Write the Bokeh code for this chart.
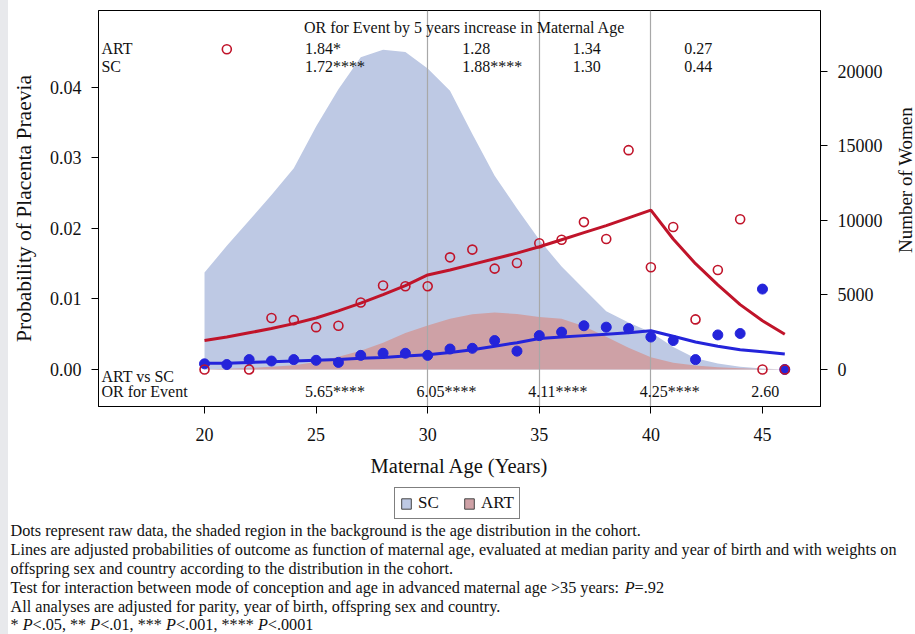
import math
import numpy as np
from bokeh.plotting import figure
from bokeh.models import (Range1d, LinearAxis, FixedTicker, NumeralTickFormatter,
                          Label, Legend, LegendItem, ColumnDataSource, Spacer)
from bokeh.layouts import row, column
from bokeh.embed import file_html
from bokeh.resources import INLINE

# ---------------- data ----------------
ages = [20, 21, 22, 23, 24, 25, 26, 27, 28, 29, 30, 31, 32, 33, 34, 35, 36, 37, 38, 39, 40, 41, 42, 43, 44, 45, 46]
sc_women = [6500, 8300, 10000, 11700, 13500, 16300, 18800, 20950, 21450, 21300, 20200, 18700, 15800, 13000,
            10800, 8700, 6900, 5400, 3900, 3150, 2500, 1500, 750, 400, 180, 60, 0]
art_women = [0, 50, 100, 180, 280, 500, 850, 1250, 1800, 2450, 2950, 3400, 3700, 3820, 3720, 3520, 3400,
             2900, 2200, 1450, 825, 450, 270, 150, 80, 40, 0]
sc_observed = [0.0008, 0.0007, 0.0014, 0.0012, 0.0014, 0.0013, 0.0010, 0.0020, 0.0023, 0.0023, 0.0020, 0.0029,
               0.0030, 0.0041, 0.0026, 0.0048, 0.0053, 0.0062, 0.0060, 0.0058, 0.0046, 0.0041, 0.0014, 0.0049,
               0.0051, 0.0114, 0.0000]
art_observed = [0.0000, 0.0454, 0.0000, 0.0073, 0.0070, 0.0060, 0.0062, 0.0095, 0.0119, 0.0118, 0.0118, 0.0159,
                0.0170, 0.0143, 0.0151, 0.0179, 0.0184, 0.0209, 0.0185, 0.0311, 0.0145, 0.0202, 0.0071, 0.0141,
                0.0213, 0.0000, 0.0000]
sc_fitted = [0.0009, 0.0009, 0.0010, 0.0011, 0.0012, 0.0013, 0.0014, 0.0016, 0.0017, 0.0019, 0.0021, 0.0024,
             0.0028, 0.0033, 0.0038, 0.0044, 0.0046, 0.0048, 0.0050, 0.0052, 0.0055, 0.0047, 0.0039, 0.0033,
             0.0028, 0.0025, 0.0022]
art_fitted = [0.0041, 0.0046, 0.0052, 0.0058, 0.0065, 0.0073, 0.0083, 0.0094, 0.0106, 0.0119, 0.0134, 0.0141,
              0.0149, 0.0157, 0.0165, 0.0174, 0.0184, 0.0194, 0.0204, 0.0215, 0.0226, 0.0185, 0.0150, 0.0120,
              0.0092, 0.0069, 0.0050]
knots = [30, 35, 40]
x_ticks = [20, 25, 30, 35, 40, 45]
p_ticks = [0.00, 0.01, 0.02, 0.03, 0.04]
n_ticks = [0, 5000, 10000, 15000, 20000]

or_title = "OR for Event by 5 years increase in Maternal Age"
or_art = ["1.84*", "1.28", "1.34", "0.27"]
or_sc = ["1.72****", "1.88****", "1.30", "0.44"]
or_art_vs_sc = ["5.65****", "6.05****", "4.11****", "4.25****", "2.60"]
legend_labels = ["SC", "ART"]
footnotes = [
    [("Dots represent raw data, the shaded region in the background is the age distribution in the cohort.", False)],
    [("Lines are adjusted probabilities of outcome as function of maternal age, evaluated at median parity and year of birth and with weights on", False)],
    [("offspring sex and country according to the distribution in the cohort.", False)],
    [("Test for interaction between mode of conception and age in advanced maternal age >35 years: ", False),
     ("P", True), ("=.92", False)],
    [("All analyses are adjusted for parity, year of birth, offspring sex and country.", False)],
    [("* ", False), ("P", True), ("<.05, ** ", False), ("P", True), ("<.01, *** ", False), ("P", True),
     ("<.001, **** ", False), ("P", True), ("<.0001", False)],
]

# ---------------- style ----------------
FONT = "Liberation Serif"
SC_AREA = "#BEC9E4"
ART_AREA = "#CEA1A6"
RED = "#C0142A"
BLUE = "#2424DA"
TXT = "#111111"

top_cols = [24.5, 31.55, 36.5, 41.5]
bot_cols = [24.5, 29.5, 34.5, 39.5, 44.5]

# Times / Liberation Serif advance widths (1/1000 em) for placing italic segments
TW = {" ": 250, "*": 500, ",": 250, ".": 250, ":": 278, "<": 564, "=": 564, ">": 564, "(": 333, ")": 333}
for ch in "0123456789":
    TW[ch] = 500
TW.update(dict(a=444, b=500, c=444, d=500, e=444, f=333, g=500, h=500, i=278, j=278, k=500, l=278, m=778,
               n=500, o=500, p=500, q=500, r=333, s=389, t=278, u=500, v=500, w=722, x=500, y=500, z=444,
               A=722, D=722, L=611, P=556, T=611))
ITALIC_P = 611


def text_w(s, italic, size):
    if italic:
        return sum(ITALIC_P if c == "P" else TW.get(c, 500) for c in s) * size / 1000.0
    return sum(TW.get(c, 500) for c in s) * size / 1000.0


src = ColumnDataSource(dict(age=ages, sc_women=sc_women, art_women=art_women, sc_obs=sc_observed,
                            art_obs=art_observed, sc_fit=sc_fitted, art_fit=art_fitted))

H1 = 486
p = figure(width=887, height=H1, output_backend="svg", toolbar_location=None,
           x_range=Range1d(15.25, 47.6), y_range=Range1d(-0.00525, 0.0509),
           min_border_left=90, min_border_right=75, min_border_top=10, min_border_bottom=80)
p.extra_y_ranges = {"n": Range1d(-2484, 24083)}
p.grid.visible = False
p.outline_line_color = "black"
p.outline_line_width = 1
p.background_fill_color = "white"
p.border_fill_color = "white"

p.varea(x="age", y1=0, y2="sc_women", source=src, y_range_name="n", fill_color=SC_AREA, fill_alpha=1)
p.varea(x="age", y1=0, y2="art_women", source=src, y_range_name="n", fill_color=ART_AREA, fill_alpha=1)
p.vspan(x=knots, line_color="#A8A8A8", line_width=1.2)
p.line(x="age", y="art_fit", source=src, line_color=RED, line_width=3)
p.line(x="age", y="sc_fit", source=src, line_color=BLUE, line_width=3)
p.scatter(x="age", y="sc_obs", source=src, marker="circle", size=10, fill_color=BLUE, line_color=BLUE)
p.scatter(x="age", y="art_obs", source=src, marker="circle", size=9, fill_color=None, line_color=RED,
          line_width=1.6)


def style_axis(ax, label_size="20.5px"):
    ax.axis_line_color = "black"
    ax.major_tick_line_color = "black"
    ax.major_tick_out = 7
    ax.major_tick_in = 0
    ax.minor_tick_line_color = None
    ax.major_label_text_font = FONT
    ax.major_label_text_font_size = "18px"
    ax.major_label_text_color = TXT
    ax.axis_label_text_font = FONT
    ax.axis_label_text_font_size = label_size
    ax.axis_label_text_font_style = "normal"
    ax.axis_label_text_color = TXT


xa = p.xaxis[0]
xa.ticker = FixedTicker(ticks=x_ticks)
xa.axis_label = "Maternal Age (Years)"
style_axis(xa, "20.5px")
xa.major_label_standoff = 14
xa.axis_label_standoff = 11

ya = p.yaxis[0]
ya.ticker = FixedTicker(ticks=p_ticks)
ya.formatter = NumeralTickFormatter(format="0.00")
ya.axis_label = "Probability of Placenta Praevia"
style_axis(ya, "21.5px")
ya.major_label_standoff = 10
ya.axis_label_standoff = 11

ra = LinearAxis(y_range_name="n", ticker=FixedTicker(ticks=n_ticks), formatter=NumeralTickFormatter(format="0"))
style_axis(ra)
ra.major_label_standoff = 10
p.add_layout(ra, "right")


def add_text(x, y, text, align="left", size="16px"):
    p.add_layout(Label(x=x, y=y, text=text, text_align=align, text_baseline="middle",
                       text_font=FONT, text_font_size=size, text_color=TXT))


add_text(31.65, 0.04851, or_title, align="center")
add_text(15.38, 0.04553, "ART")
add_text(15.38, 0.04298, "SC")
for xc, a, s in zip(top_cols, or_art, or_sc):
    add_text(xc, 0.04553, a)
    add_text(xc, 0.04298, s)
add_text(15.38, -0.00099, "ART vs SC")
add_text(15.38, -0.00312, "OR for Event")
for xc, t in zip(bot_cols, or_art_vs_sc):
    add_text(xc, -0.00312, t)

# right-hand axis title, reading bottom-to-top
q = figure(width=20, height=H1, output_backend="svg", toolbar_location=None,
           x_range=Range1d(0, 20), y_range=Range1d(0, H1), x_axis_type=None, y_axis_type=None,
           min_border_left=0, min_border_right=0, min_border_top=0, min_border_bottom=0)
q.grid.visible = False
q.outline_line_color = None
q.add_layout(Label(x=9.5, y=H1 - 208, text="Number of Women", angle=math.pi / 2, text_align="center",
                   text_baseline="middle", text_font=FONT, text_font_size="19px", text_color=TXT))

# legend and footnotes
H2 = 634 - H1
f = figure(width=907, height=H2, output_backend="svg", toolbar_location=None,
           x_range=Range1d(0, 907), y_range=Range1d(0, H2), x_axis_type=None, y_axis_type=None,
           min_border_left=0, min_border_right=0, min_border_top=0, min_border_bottom=0)
f.grid.visible = False
f.outline_line_color = None
nan = np.array([np.nan])
leg_sc = f.quad(left=nan, right=nan, bottom=nan, top=nan, fill_color=SC_AREA, line_color="#444444", line_width=1)
leg_art = f.quad(left=nan, right=nan, bottom=nan, top=nan, fill_color=ART_AREA, line_color="#444444", line_width=1)
legend = Legend(items=[LegendItem(label=legend_labels[0], renderers=[leg_sc]),
                       LegendItem(label=legend_labels[1], renderers=[leg_art])],
                orientation="horizontal", location=(386, 115),
                border_line_color="black", border_line_width=1, background_fill_color="white",
                label_text_font=FONT, label_text_font_size="17px", label_text_color=TXT,
                glyph_width=12, glyph_height=13, padding=5, spacing=15, label_standoff=6,
                label_width=30, label_height=18, margin=0)
f.add_layout(legend)

FOOT_SIZE = 16.2
foot_y = [104, 85, 66, 47, 28, 10]
for segs, yy in zip(footnotes, foot_y):
    xx = 2.0
    for txt, ital in segs:
        f.add_layout(Label(x=xx, y=yy, text=txt, text_align="left", text_baseline="middle", text_font=FONT,
                           text_font_size=f"{FOOT_SIZE}px", text_color=TXT,
                           text_font_style="italic" if ital else "normal"))
        xx += text_w(txt, ital, FOOT_SIZE)

strip = Spacer(width=8, height=634, styles={"background-color": "#E8E9EC"})
layout = row(strip, column(row(p, q, spacing=0), f, spacing=0), spacing=0)

open("out.html", "w").write(file_html(layout, INLINE))
